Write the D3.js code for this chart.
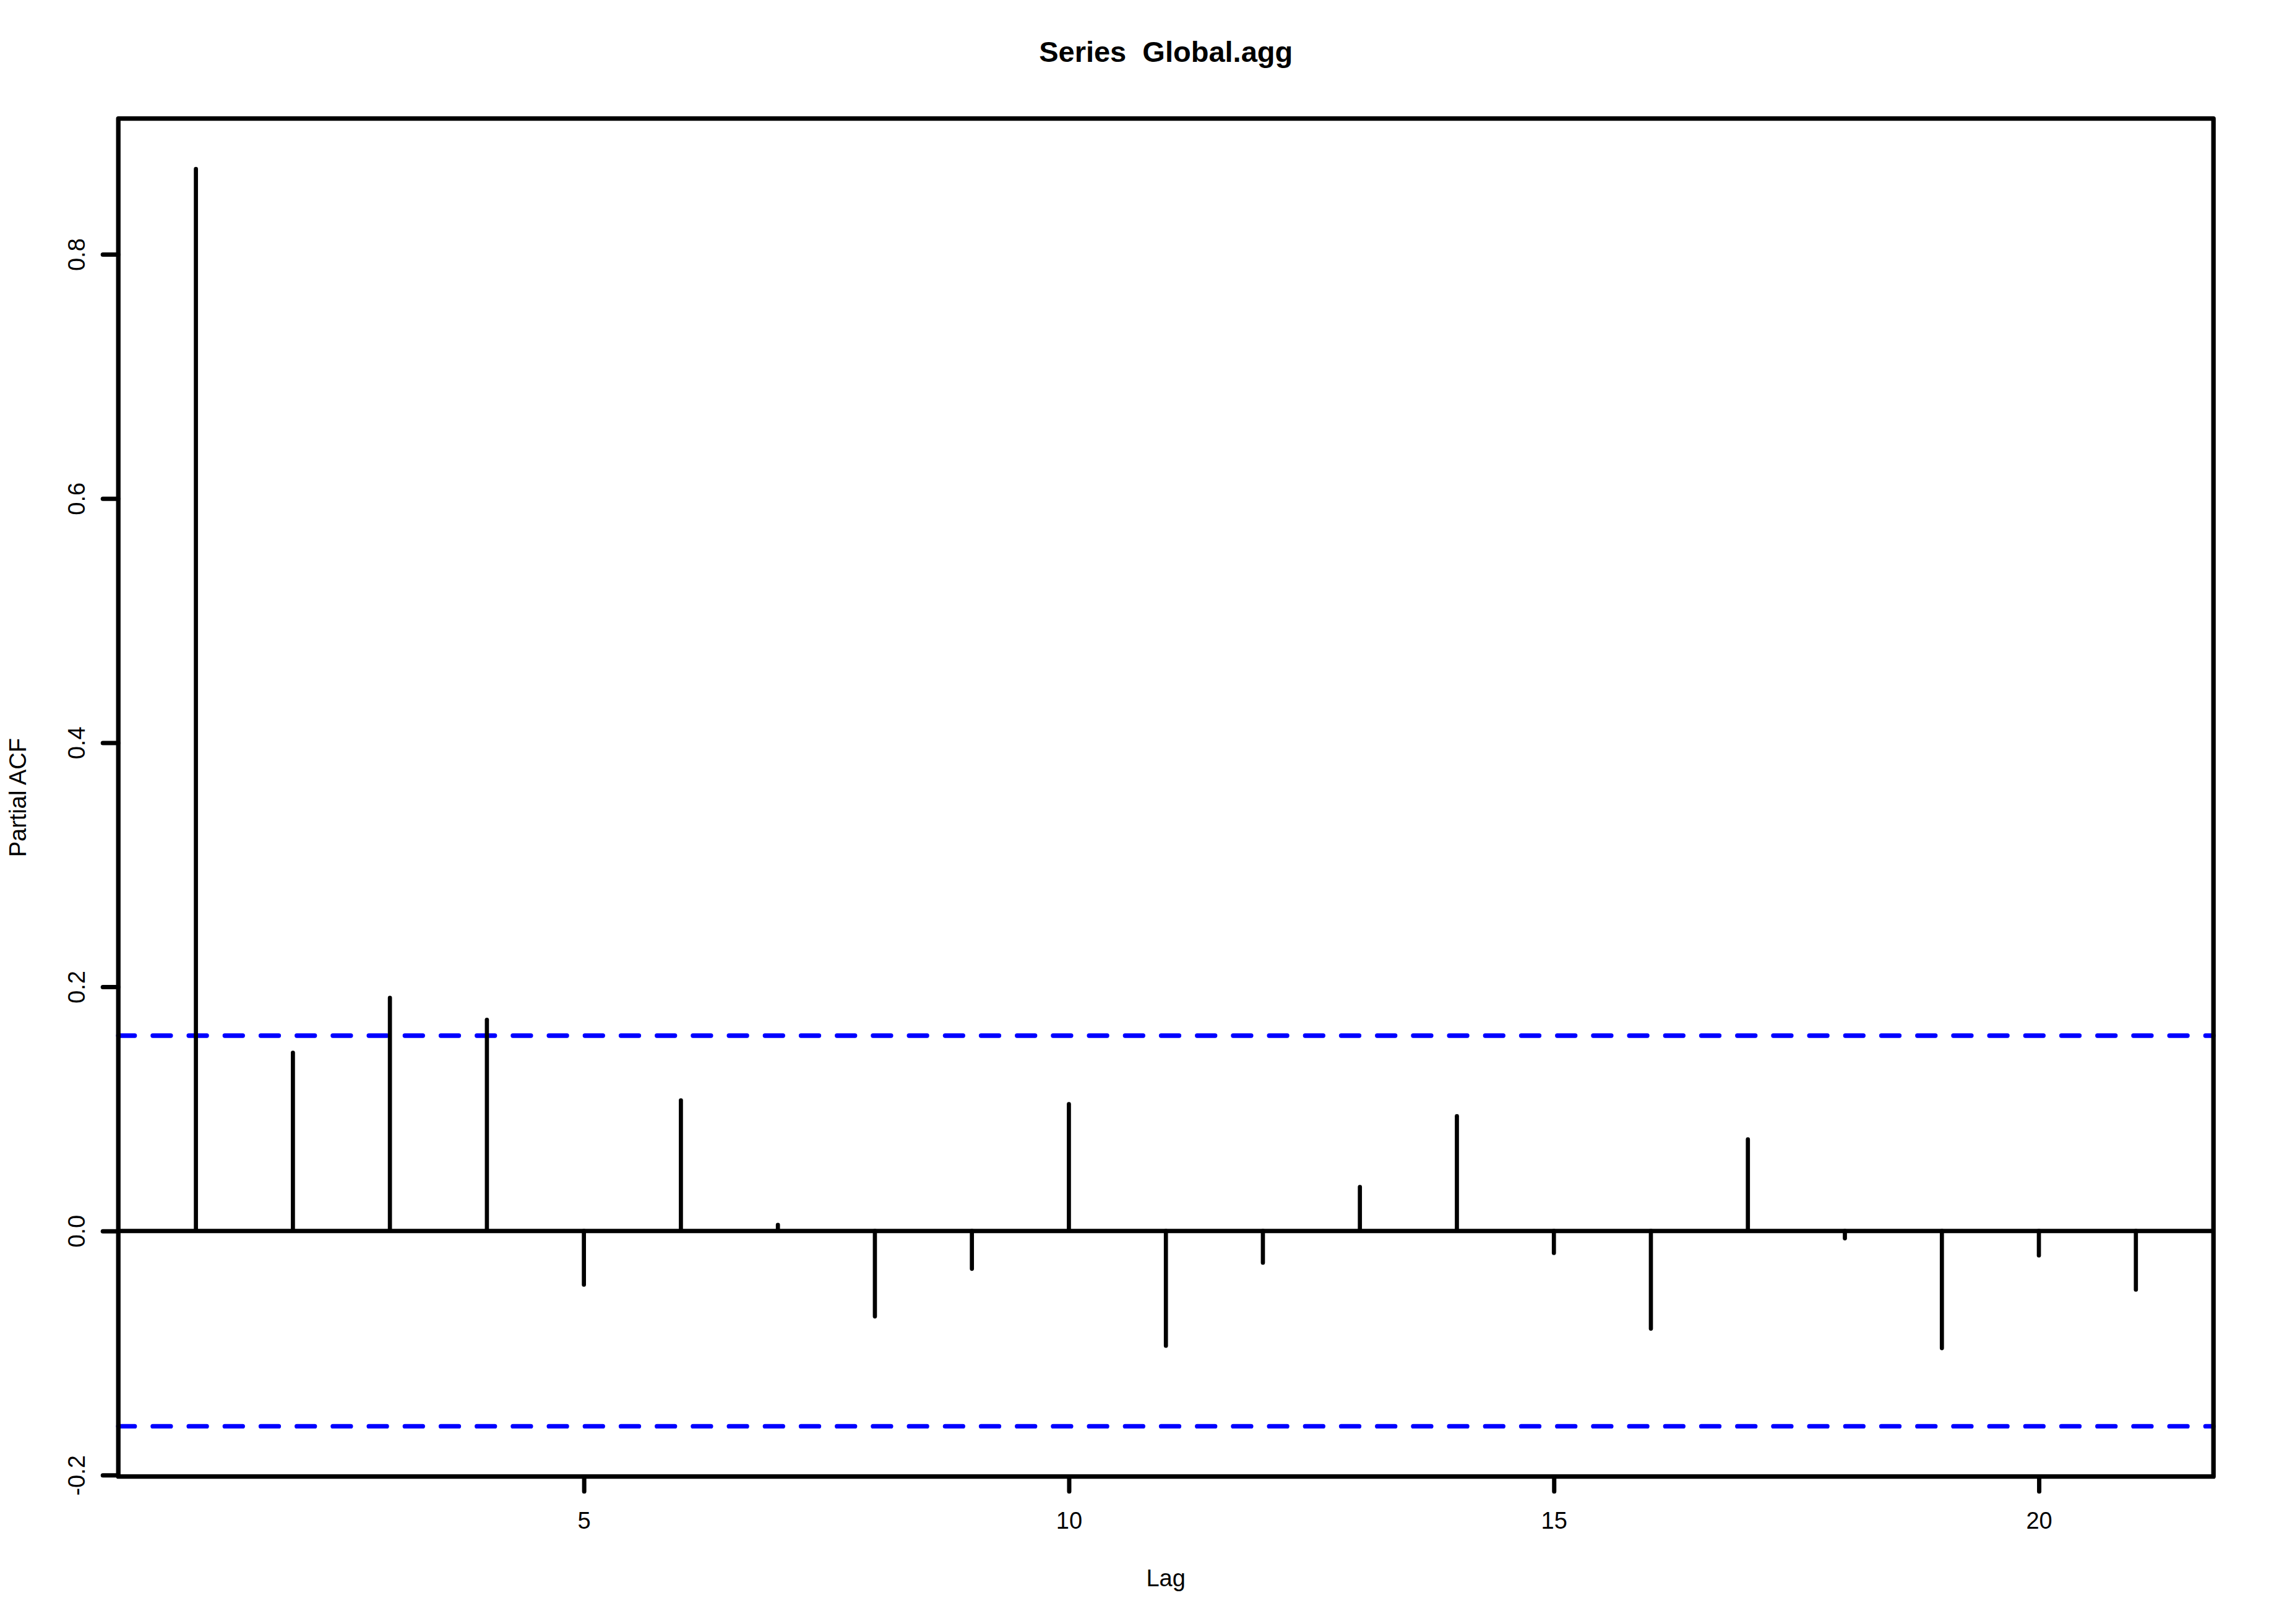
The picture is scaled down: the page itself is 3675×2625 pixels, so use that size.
<!DOCTYPE html>
<head>
<meta charset="utf-8">
<script src="https://d3js.org/d3.v7.min.js"></script>
<style>
  body { margin: 0; background: #fff; }
  text { font-family: "Liberation Sans", Arial, sans-serif; fill: #000; }
</style>
</head>
<body>
<div id="datavis"></div>

<script type="text/javascript">
    // partial autocorrelations
    var lags = [1, 2, 3, 4, 5, 6, 7, 8, 9, 10, 11, 12, 13, 14, 15, 16, 17, 18, 19, 20, 21];
    var pacf = [0.870, 0.146, 0.191, 0.173, -0.044, 0.107, 0.005, -0.070, -0.031, 0.104,
                -0.094, -0.026, 0.036, 0.094, -0.018, -0.080, 0.075, -0.006, -0.096, -0.020, -0.048];
    var ci = [0.16, -0.16];
    var xTicks = [5, 10, 15, 20];
    var yTicks = [-0.2, 0.0, 0.2, 0.4, 0.6, 0.8];

    var width = 3675, height = 2625;
    var margin = {top: 191.7, right: 97.8, bottom: 238.3, left: 191.2};

    var svg = d3.select("#datavis")
                .append("svg")
                .attr("width", width)
                .attr("height", height);

    // R style: pad the data range by 4% each side
    var xr = d3.extent(lags), xpad = (xr[1] - xr[0]) * 0.04;
    var yr = d3.extent(pacf.concat(ci)), ypad = (yr[1] - yr[0]) * 0.04;

    var x = d3.scaleLinear()
              .domain([xr[0] - xpad, xr[1] + xpad])
              .range([margin.left, width - margin.right]);

    var y = d3.scaleLinear()
              .domain([yr[0] - ypad, yr[1] + ypad])
              .range([height - margin.bottom, margin.top]);

    // x axis
    var xAxis = svg.append("g")
       .attr("transform", "translate(0," + (height - margin.bottom) + ")")
       .call(d3.axisBottom(x).tickValues(xTicks).tickSize(24).tickSizeOuter(0).tickPadding(50));
    xAxis.select(".domain").remove();
    xAxis.selectAll("line").attr("stroke", "#000").attr("stroke-width", 7).attr("stroke-linecap", "round");
    xAxis.selectAll("text")
         .attr("y", 84).attr("dy", 0)
         .style("font-size", "38px").style("font-family", "Liberation Sans, Arial, sans-serif");

    // y axis
    var yAxis = svg.append("g")
       .attr("transform", "translate(" + margin.left + ",0)")
       .call(d3.axisLeft(y).tickValues(yTicks).tickSize(25).tickSizeOuter(0)
               .tickFormat(function(d) { return d.toFixed(1); }));
    yAxis.select(".domain").remove();
    yAxis.selectAll("line").attr("stroke", "#000").attr("stroke-width", 7).attr("stroke-linecap", "round");
    yAxis.selectAll("text")
         .attr("x", 0).attr("y", -54.5).attr("dy", 0)
         .attr("transform", "rotate(-90)")
         .attr("text-anchor", "middle")
         .style("font-size", "38px").style("font-family", "Liberation Sans, Arial, sans-serif");

    // confidence bounds
    svg.selectAll(".ci")
       .data(ci)
       .enter()
       .append("line")
       .attr("x1", x.range()[0])
       .attr("x2", x.range()[1])
       .attr("y1", function(d) { return y(d); })
       .attr("y2", function(d) { return y(d); })
       .attr("stroke", "#0000ff")
       .attr("stroke-width", 7.3)
       .attr("stroke-linecap", "round")
       .attr("stroke-dasharray", "29 29.2")
       .attr("stroke-dashoffset", 2.5);

    // spikes
    svg.selectAll(".spike")
       .data(lags)
       .enter()
       .append("line")
       .attr("x1", function(d) { return x(d); })
       .attr("x2", function(d) { return x(d); })
       .attr("y1", y(0))
       .attr("y2", function(d, i) { return y(pacf[i]); })
       .attr("stroke", "#000")
       .attr("stroke-width", 6.7)
       .attr("stroke-linecap", "round");

    // zero line
    svg.append("line")
       .attr("x1", x.range()[0]).attr("x2", x.range()[1])
       .attr("y1", y(0)).attr("y2", y(0))
       .attr("stroke", "#000")
       .attr("stroke-width", 7);

    // frame
    svg.append("rect")
       .attr("x", x.range()[0])
       .attr("y", y.range()[1])
       .attr("width", x.range()[1] - x.range()[0])
       .attr("height", y.range()[0] - y.range()[1])
       .attr("fill", "none")
       .attr("stroke", "#000")
       .attr("stroke-width", 7.3)
       .attr("stroke-linejoin", "round");

    // labels
    var cx = (x.range()[0] + x.range()[1]) / 2,
        cy = (y.range()[0] + y.range()[1]) / 2;

    svg.append("text")
       .attr("x", cx).attr("y", 100)
       .attr("text-anchor", "middle")
       .style("font-size", "47px").style("font-weight", "bold")
       .style("white-space", "pre")
       .text("Series  Global.agg");

    svg.append("text")
       .attr("x", cx).attr("y", 2564)
       .attr("text-anchor", "middle")
       .style("font-size", "38px")
       .text("Lag");

    svg.append("text")
       .attr("transform", "translate(42," + cy + ") rotate(-90)")
       .attr("text-anchor", "middle")
       .style("font-size", "38px")
       .text("Partial ACF");
</script>
</body>
